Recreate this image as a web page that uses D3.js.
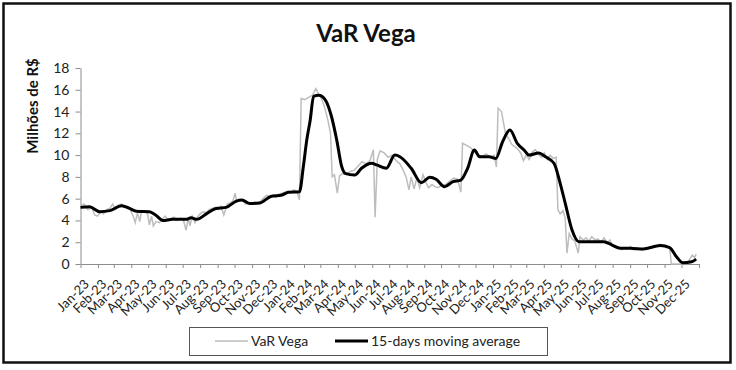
<!DOCTYPE html>
<html>
<head>
<meta charset="utf-8">
<script src="https://cdn.jsdelivr.net/npm/d3@7"></script>
<style>
  body { margin: 0; background: #fff; }
  text { font-family: Lato, "Open Sans", sans-serif; }
</style>
</head>
<body>
<div id="chart"></div>
<script>
// tick labels, one per month
const monthLabels = [
  "Jan-23","Feb-23","Mar-23","Apr-23","May-23","Jun-23","Jul-23","Aug-23","Sep-23","Oct-23","Nov-23","Dec-23",
  "Jan-24","Feb-24","Mar-24","Apr-24","May-24","Jun-24","Jul-24","Aug-24","Sep-24","Oct-24","Nov-24","Dec-24",
  "Jan-25","Feb-25","Mar-25","Apr-25","May-25","Jun-25","Jul-25","Aug-25","Sep-25","Oct-25","Nov-25","Dec-25"
];
const yTicks = [0, 2, 4, 6, 8, 10, 12, 14, 16, 18];

// VaR Vega, days since 1 Jan 2023 and value (R$ millions)
const varDay = [0,6,13,20,25,30,36,41,46,52,57,62,67,73,78,83,89,94,97,101,105,108,113,119,122,126,129,134,140,145,
  150,156,161,166,171,177,182,187,191,194,198,203,207,212,217,223,228,233,238,244,249,254,260,265,270,274,277,283,288,293,
  298,304,309,314,320,325,330,335,341,346,351,357,362,367,372,378,383,388,391,397,404,411,417,422,427,432,438,443,446,450,
  455,459,464,471,478,485,492,499,506,513,519,522,526,531,538,545,552,559,566,572,577,582,586,591,596,601,607,612,617,623,
  628,633,640,647,654,661,668,674,677,684,691,698,705,712,719,726,733,737,740,746,753,759,764,769,774,780,785,790,795,801,
  806,811,817,822,827,832,838,843,846,850,855,859,862,866,871,876,882,885,891,896,901,906,912,917,922,928,933,938,943,949,
  954,959,964,970,975,980,986,991,996,1002,1007,1012,1017,1023,1028,1033,1038,1044,1047,1056,1065,1074,1079,1084,1088,1091];
const varValue = [5.3,5.5,5.0,5.2,4.5,4.4,4.8,4.6,5.0,5.1,5.5,5.0,5.4,5.5,5.2,5.3,4.9,4.3,3.8,4.7,3.9,4.8,4.9,4.6,3.6,4.4,3.5,3.9,3.8,4.1,
  4.4,4.0,4.2,4.3,4.0,4.2,4.1,3.1,4.2,3.5,4.4,3.8,4.3,4.6,4.8,4.7,5.0,5.1,5.2,5.0,5.3,4.5,5.5,5.6,5.8,6.5,5.7,5.9,5.8,5.5,
  5.6,5.5,5.7,5.6,5.8,6.1,6.3,6.2,6.3,6.1,6.4,6.5,6.6,6.7,6.6,6.8,6.7,5.9,15.2,15.1,15.3,15.5,16.1,15.6,15.2,14.5,13.3,12.0,8.0,8.2,
  6.5,8.1,8.3,8.2,8.5,8.6,9.0,9.4,9.2,9.5,10.5,4.3,9.6,10.4,10.2,9.8,10.0,9.5,9.2,8.6,8.0,6.8,8.0,6.9,7.9,7.0,8.2,7.5,7.0,7.3,
  7.1,7.0,7.2,7.3,7.6,7.9,7.8,6.6,11.1,10.9,10.7,10.3,10.0,9.9,10.1,9.8,10.0,8.9,14.3,14.0,12.0,11.5,11.0,10.8,10.6,10.2,9.5,10.0,9.6,10.3,
  10.5,10.1,9.8,10.2,9.6,10.0,9.7,9.8,5.0,4.6,4.9,4.2,1.0,2.8,2.3,2.1,1.0,2.5,2.2,2.4,2.1,2.5,2.2,2.3,2.0,2.4,1.9,2.2,1.7,1.5,
  1.6,1.3,1.5,1.4,1.6,1.3,1.5,1.4,1.3,1.5,1.4,1.6,1.7,1.6,1.8,1.7,1.6,1.5,0.0,0.0,0.0,0.05,0.4,0.8,0.6,0.9];

// 15-days moving average, days since 1 Jan 2023 and value
const maDay = [0,16,34,52,73,87,99,122,133,146,163,187,196,206,223,240,258,276,286,300,318,337,357,369,388,395,401,407,413,422,
  434,445,454,463,469,486,498,516,525,542,557,566,586,604,619,630,645,660,674,686,698,707,724,736,748,761,774,786,795,812,
  824,839,850,859,871,883,903,927,942,956,974,997,1027,1044,1056,1067,1083,1091];
const maValue = [5.2,5.25,4.8,4.9,5.35,5.1,4.85,4.8,4.5,4.0,4.1,4.1,4.25,4.1,4.6,5.1,5.2,5.78,5.88,5.55,5.6,6.2,6.33,6.6,6.64,9.0,11.4,13.2,15.4,15.5,
  15.06,13.5,11.4,8.93,8.33,8.17,8.79,9.25,9.1,8.8,10.0,9.85,8.79,7.47,7.96,7.78,7.1,7.56,7.71,8.79,10.47,9.85,9.85,9.7,11.23,12.3,11.08,10.47,10.0,10.2,
  9.85,9.25,7.41,5.57,3.12,2.05,2.05,2.05,1.74,1.44,1.44,1.38,1.7,1.5,0.67,0.12,0.21,0.45];

const width = 736, height = 370;
const t0 = new Date(2023, 0, 1);
const tEnd = new Date(2026, 0, 1);
const dayToDate = d => d3.timeDay.offset(t0, d);

const svg = d3.select("#chart").append("svg")
  .attr("width", width)
  .attr("height", height);

// outer frame
svg.append("rect")
  .attr("x", 3.5).attr("y", 3.5)
  .attr("width", 727).attr("height", 359)
  .attr("fill", "#fff")
  .attr("stroke", "#111")
  .attr("stroke-width", 2.5);

const x = d3.scaleTime().domain([t0, tEnd]).range([80.5, 699]);
const y = d3.scaleLinear().domain([0, 18]).range([264, 68]);

// title
svg.append("text")
  .attr("x", 366).attr("y", 42)
  .attr("text-anchor", "middle")
  .style("font-size", "24px")
  .style("font-weight", "bold")
  .style("fill", "#111")
  .text("VaR Vega");

// y axis
const yAxis = svg.append("g")
  .attr("transform", "translate(80.5,0)")
  .call(d3.axisLeft(y).tickValues(yTicks).tickSize(5).tickSizeOuter(0).tickPadding(6));
yAxis.select(".domain").attr("stroke", "#8c8c8c");
yAxis.selectAll(".tick line").attr("stroke", "#8c8c8c");
yAxis.selectAll(".tick text")
  .style("font-size", "14px")
  .style("font-family", "Lato, sans-serif")
  .attr("fill", "#222");

svg.append("text")
  .attr("transform", "translate(38,106) rotate(-90)")
  .attr("text-anchor", "middle")
  .style("font-size", "15px")
  .style("font-weight", "bold")
  .style("fill", "#111")
  .text("Milhões de R$");

// x axis
const monthStarts = d3.timeMonth.range(t0, d3.timeDay.offset(tEnd, 1));
const xAxis = svg.append("g")
  .attr("transform", "translate(0,264)")
  .call(d3.axisBottom(x).tickValues(monthStarts).tickSize(4).tickSizeOuter(0).tickFormat(""));
xAxis.select(".domain").attr("stroke", "#8c8c8c");
xAxis.selectAll(".tick line").attr("stroke", "#8c8c8c");

svg.append("g").selectAll("text")
  .data(monthLabels)
  .enter()
  .append("text")
  .attr("transform", (d, i) => "translate(" + (x(new Date(2023, i, 14)) + 2) + ",285) rotate(-45)")
  .attr("text-anchor", "end")
  .style("font-size", "13px")
  .style("fill", "#222")
  .text(d => d);

// series
const varData = varDay.map((d, i) => ({date: dayToDate(d), value: varValue[i]}));
const maData = maDay.map((d, i) => ({date: dayToDate(d), value: maValue[i]}));

const line = d3.line()
  .x(d => x(d.date))
  .y(d => y(d.value));

svg.append("path")
  .datum(varData)
  .attr("fill", "none")
  .attr("stroke", "#bdbdbd")
  .attr("stroke-width", 1.5)
  .attr("d", line);

svg.append("path")
  .datum(maData)
  .attr("fill", "none")
  .attr("stroke", "#000")
  .attr("stroke-width", 3)
  .attr("stroke-linejoin", "round")
  .attr("d", line.curve(d3.curveMonotoneX));

// legend
const legend = svg.append("g");
legend.append("rect")
  .attr("x", 189.5).attr("y", 327.5)
  .attr("width", 358).attr("height", 28)
  .attr("fill", "#fff")
  .attr("stroke", "#555")
  .attr("stroke-width", 1);

const legendItems = [
  {label: "VaR Vega", color: "#bdbdbd", w: 1.5, x: 215},
  {label: "15-days moving average", color: "#000", w: 3, x: 335}
];
legendItems.forEach(item => {
  legend.append("line")
    .attr("x1", item.x).attr("x2", item.x + 33)
    .attr("y1", 341).attr("y2", 341)
    .attr("stroke", item.color)
    .attr("stroke-width", item.w);
  legend.append("text")
    .attr("x", item.x + 36).attr("y", 346)
    .style("font-size", "14px")
    .style("fill", "#222")
    .text(item.label);
});
</script>
</body>
</html>
